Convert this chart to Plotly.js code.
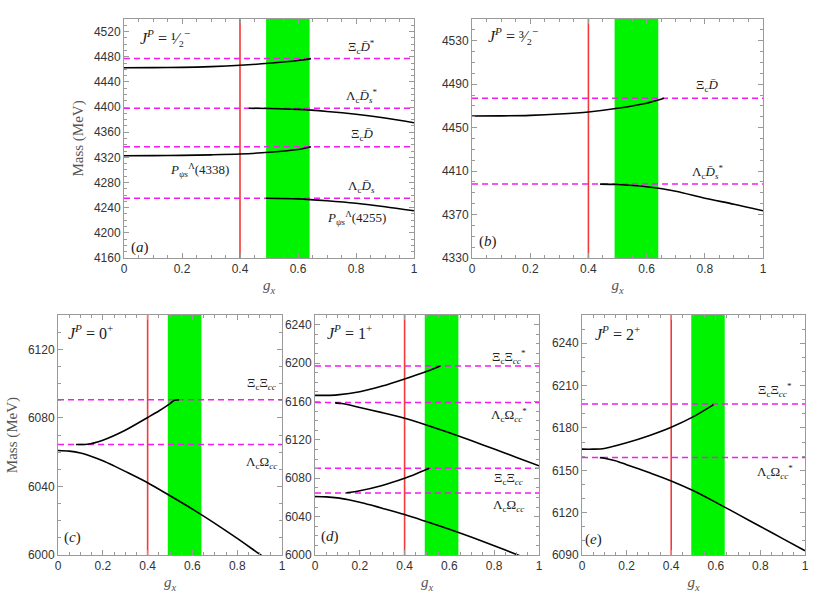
<!DOCTYPE html>
<html>
<head>
<meta charset="utf-8">
<script src="https://cdn.plot.ly/plotly-3.0.1.min.js"></script>
<style>
    html, body { margin: 0; padding: 0; background: #fff; }
    #chart { width: 830px; height: 616px; }
</style>
</head>
<body>
<div id="chart"></div>
<script>
/* ============================================================
   Mass vs g_x for the five J^P sectors (a)-(e)
   ============================================================ */

/* ── shared markers ── */
const REF_GX = 0.4;           // red vertical line
const BAND_GX = [0.49, 0.64]; // green band

/* ── (a) J^P = 1/2^- ── */
const A_THRESH = [4477, 4398, 4337, 4255];
const A_GX_1 = [0, 0.1, 0.2, 0.3, 0.4, 0.5, 0.6, 0.645];
const A_M_1  = [4462.5, 4462.6, 4463, 4464.2, 4466.3, 4469.5, 4474, 4477];
const A_GX_2 = [0.43, 0.5, 0.6, 0.7, 0.8, 0.9, 1.0];
const A_M_2  = [4398, 4397.7, 4396.2, 4393, 4388.5, 4382.5, 4375];
const A_GX_3 = [0, 0.1, 0.2, 0.3, 0.4, 0.5, 0.6, 0.645];
const A_M_3  = [4322.6, 4322.7, 4323.1, 4324, 4325.3, 4328, 4332.5, 4337];
const A_GX_4 = [0.49, 0.6, 0.7, 0.8, 0.9, 1.0];
const A_M_4  = [4255, 4254, 4251, 4247, 4241.5, 4235];

/* ── (b) J^P = 3/2^- ── */
const B_THRESH = [4477, 4398];
const B_GX_1 = [0, 0.1, 0.2, 0.3, 0.4, 0.5, 0.6, 0.66];
const B_M_1  = [4460.7, 4460.8, 4461.3, 4462.5, 4464.4, 4467.8, 4472.5, 4477];
const B_GX_2 = [0.44, 0.5, 0.6, 0.7, 0.8, 0.9, 1.0];
const B_M_2  = [4398, 4397.6, 4395.5, 4391.5, 4385, 4379.5, 4373.5];

/* ── (c) J^P = 0^+ ── */
const C_THRESH = [6090.5, 6064.5];
const C_GX_1 = [0.08, 0.13, 0.2, 0.3, 0.4, 0.45, 0.5, 0.52, 0.54];
const C_M_1  = [6064.5, 6064.6, 6067, 6072.8, 6080.2, 6084, 6088.3, 6090.3, 6090.5];
const C_GX_2 = [0, 0.05, 0.1, 0.15, 0.2, 0.25, 0.3, 0.4, 0.5, 0.6, 0.7, 0.8, 0.9, 0.95];
const C_M_2  = [6061, 6060.6, 6059.5, 6057.5, 6055, 6052, 6048.8, 6042.2, 6034.6, 6026.8, 6018.5, 6009.7, 6000.5, 5996];

/* ── (d) J^P = 1^+ ── */
const D_THRESH = [6197, 6159, 6090.5, 6064.5];
const D_GX_1 = [0, 0.05, 0.1, 0.2, 0.3, 0.4, 0.5, 0.56];
const D_M_1  = [6166.3, 6166.3, 6166.8, 6170, 6176, 6183.4, 6191.5, 6197];
const D_GX_2 = [0.09, 0.12, 0.15, 0.2, 0.3, 0.4, 0.5, 0.6, 0.7, 0.8, 0.9, 1.0];
const D_M_2  = [6158.5, 6157.8, 6156.5, 6153.6, 6148.3, 6142.5, 6135.2, 6127.3, 6119, 6110.4, 6101.7, 6093];
const D_GX_3 = [0.14, 0.2, 0.3, 0.4, 0.45, 0.51];
const D_M_3  = [6064.8, 6067, 6072.5, 6080, 6084.5, 6090.3];
const D_GX_4 = [0, 0.05, 0.1, 0.15, 0.2, 0.25, 0.3, 0.4, 0.5, 0.6, 0.7, 0.8, 0.9, 0.95];
const D_M_4  = [6061, 6060.6, 6059.5, 6057.5, 6055, 6052, 6048.8, 6042.2, 6034.6, 6026.8, 6018.5, 6009.7, 6000.5, 5996];

/* ── (e) J^P = 2^+ ── */
const E_THRESH = [6197, 6159];
const E_GX_1 = [0, 0.05, 0.1, 0.2, 0.3, 0.4, 0.5, 0.59];
const E_M_1  = [6165, 6165, 6165.5, 6169.5, 6174.5, 6180.5, 6188, 6196.5];
const E_GX_2 = [0.08, 0.1, 0.15, 0.2, 0.3, 0.4, 0.5, 0.6, 0.7, 0.8, 0.9, 1.0];
const E_M_2  = [6159, 6158.6, 6156.8, 6154, 6148.4, 6142.5, 6135.5, 6127.3, 6118.8, 6110.2, 6101.6, 6093];

/* ── styling ── */
const FRAME = '#9a9a9a';
const SERIF = 'Liberation Serif';
const TICK_FONT  = { family: 'Liberation Sans', size: 12, color: '#333' };
const LABEL_FONT = { family: SERIF, size: 13, color: '#222' };
const JP_FONT    = { family: SERIF, size: 16, color: '#222' };
const TITLE_FONT = { family: SERIF, size: 15, color: '#555' };

const PANELS = [
    { key: '',  xd: [0.1494, 0.4988], yd: [0.5812, 0.9692], yr: [4160, 4540], dt: 40, t0: 4160, mt: 10, ytitle: true,
      thresh: A_THRESH,
      curves: [[A_GX_1, A_M_1], [A_GX_2, A_M_2], [A_GX_3, A_M_3], [A_GX_4, A_M_4]],
      tag: '(<i>a</i>)', tagPos: [0.055, 4176],
      jp: '<i>J</i><sup><i>P</i></sup> = ¹⁄₂<sup>−</sup>', jpPos: [0.14, 4511],
      labels: [
          ['Ξ<sub>c</sub><i>D̄</i><sup>*</sup>', 0.82, 4495],
          ['Λ<sub>c</sub><i>D̄</i><sub><i>s</i></sub><sup>*</sup>', 0.82, 4418],
          ['Ξ<sub>c</sub><i>D̄</i>', 0.82, 4356],
          ['Λ<sub>c</sub><i>D̄</i><sub><i>s</i></sub>', 0.82, 4273],
          ['<i>P</i><sub><i>ψs</i></sub><sup>Λ</sup>(4338)', 0.262, 4300],
          ['<i>P</i><sub><i>ψs</i></sub><sup>Λ</sup>(4255)', 0.80, 4223]
      ] },
    { key: '2', xd: [0.5687, 0.9193], yd: [0.5812, 0.9692], yr: [4330, 4550], dt: 40, t0: 4330, mt: 10, ytitle: false,
      thresh: B_THRESH,
      curves: [[B_GX_1, B_M_1], [B_GX_2, B_M_2]],
      tag: '(<i>b</i>)', tagPos: [0.055, 4345],
      jp: '<i>J</i><sup><i>P</i></sup> = ³⁄₂<sup>−</sup>', jpPos: [0.14, 4535],
      labels: [
          ['Ξ<sub>c</sub><i>D̄</i>', 0.808, 4489],
          ['Λ<sub>c</sub><i>D̄</i><sub><i>s</i></sub><sup>*</sup>', 0.808, 4409]
      ] },
    { key: '3', xd: [0.0699, 0.3398], yd: [0.0990, 0.4886], yr: [6000, 6140], dt: 40, t0: 6000, mt: 10, ytitle: true,
      thresh: C_THRESH,
      curves: [[C_GX_1, C_M_1], [C_GX_2, C_M_2]],
      tag: '(<i>c</i>)', tagPos: [0.065, 6010],
      jp: '<i>J</i><sup><i>P</i></sup> = 0<sup>+</sup>', jpPos: [0.145, 6130],
      labels: [
          ['Ξ<sub>c</sub>Ξ<sub><i>cc</i></sub>', 0.91, 6100],
          ['Λ<sub>c</sub>Ω<sub><i>cc</i></sub>', 0.91, 6054]
      ] },
    { key: '4', xd: [0.3795, 0.6494], yd: [0.0990, 0.4886], yr: [6000, 6250], dt: 40, t0: 6000, mt: 10, ytitle: false,
      thresh: D_THRESH,
      curves: [[D_GX_1, D_M_1], [D_GX_2, D_M_2], [D_GX_3, D_M_3], [D_GX_4, D_M_4]],
      tag: '(<i>d</i>)', tagPos: [0.067, 6019],
      jp: '<i>J</i><sup><i>P</i></sup> = 1<sup>+</sup>', jpPos: [0.156, 6232],
      labels: [
          ['Ξ<sub>c</sub>Ξ<sub><i>cc</i></sub><sup>*</sup>', 0.866, 6206],
          ['Λ<sub>c</sub>Ω<sub><i>cc</i></sub><sup>*</sup>', 0.866, 6146],
          ['Ξ<sub>c</sub>Ξ<sub><i>cc</i></sub>', 0.866, 6080],
          ['Λ<sub>c</sub>Ω<sub><i>cc</i></sub>', 0.866, 6052]
      ] },
    { key: '5', xd: [0.7012, 0.9699], yd: [0.0990, 0.4886], yr: [6090, 6260], dt: 30, t0: 6090, mt: 10, ytitle: false,
      thresh: E_THRESH,
      curves: [[E_GX_1, E_M_1], [E_GX_2, E_M_2]],
      tag: '(<i>e</i>)', tagPos: [0.05, 6101],
      jp: '<i>J</i><sup><i>P</i></sup> = 2<sup>+</sup>', jpPos: [0.157, 6247],
      labels: [
          ['Ξ<sub>c</sub>Ξ<sub><i>cc</i></sub><sup>*</sup>', 0.865, 6207],
          ['Λ<sub>c</sub>Ω<sub><i>cc</i></sub><sup>*</sup>', 0.865, 6149]
      ] }
];

function axisBase() {
    return {
        showline: true, linecolor: FRAME, linewidth: 1, mirror: 'allticks',
        ticks: 'inside', ticklen: 5, tickcolor: FRAME, tickwidth: 1,
        showgrid: false, zeroline: false, fixedrange: true,
        tickfont: TICK_FONT, automargin: false
    };
}

const traces = [];
const shapes = [];
const annotations = [];
const layout = {
    width: 830, height: 616,
    margin: { t: 0, b: 0, l: 0, r: 0 },
    paper_bgcolor: '#fff', plot_bgcolor: '#fff',
    showlegend: false
};

PANELS.forEach(p => {
    const xa = 'x' + p.key, ya = 'y' + p.key;

    layout['xaxis' + p.key] = {
        ...axisBase(),
        domain: p.xd, anchor: ya, range: [0, 1], dtick: 0.2, tick0: 0,
        minor: { dtick: 0.05, ticks: 'inside', ticklen: 3, tickcolor: FRAME },
        title: { text: '<i>g</i><sub><i>x</i></sub>', font: TITLE_FONT, standoff: 4 }
    };
    layout['yaxis' + p.key] = {
        ...axisBase(),
        domain: p.yd, anchor: xa, range: p.yr, dtick: p.dt, tick0: p.t0,
        minor: { dtick: p.mt, ticks: 'inside', ticklen: 3, tickcolor: FRAME },
        title: p.ytitle ? { text: 'Mass (MeV)', font: TITLE_FONT, standoff: 6 } : { text: '' }
    };

    /* green band + red reference line under the curves */
    shapes.push({
        type: 'rect', xref: xa, yref: ya + ' domain', layer: 'below',
        x0: BAND_GX[0], x1: BAND_GX[1], y0: 0, y1: 1,
        fillcolor: '#00f400', line: { width: 0 }
    });
    shapes.push({
        type: 'line', xref: xa, yref: ya + ' domain', layer: 'below',
        x0: REF_GX, x1: REF_GX, y0: 0, y1: 1,
        line: { color: '#f23a3a', width: 1.6 }
    });

    /* thresholds, dashed magenta */
    p.thresh.forEach(m => {
        shapes.push({
            type: 'line', xref: xa + ' domain', yref: ya, layer: 'below',
            x0: 0, x1: 1, y0: m, y1: m,
            line: { color: '#f21cf2', width: 1.5, dash: '6px,4px' }
        });
    });

    /* pole trajectories */
    p.curves.forEach(([gx, mass]) => {
        traces.push({
            x: gx, y: mass, xaxis: xa, yaxis: ya,
            type: 'scatter', mode: 'lines',
            line: { color: '#000', width: 1.6, shape: 'spline', smoothing: 0.8 },
            hoverinfo: 'skip'
        });
    });

    p.labels.forEach(([text, x, y]) => {
        annotations.push({ text, x, y, xref: xa, yref: ya, showarrow: false, font: LABEL_FONT });
    });
    annotations.push({ text: p.tag, x: p.tagPos[0], y: p.tagPos[1], xref: xa, yref: ya, showarrow: false, font: { family: SERIF, size: 15, color: '#222' } });
    annotations.push({ text: p.jp, x: p.jpPos[0], y: p.jpPos[1], xref: xa, yref: ya, showarrow: false, font: JP_FONT });
});

layout.shapes = shapes;
layout.annotations = annotations;

Plotly.newPlot('chart', traces, layout, { displayModeBar: false, staticPlot: true });
</script>
</body>
</html>
